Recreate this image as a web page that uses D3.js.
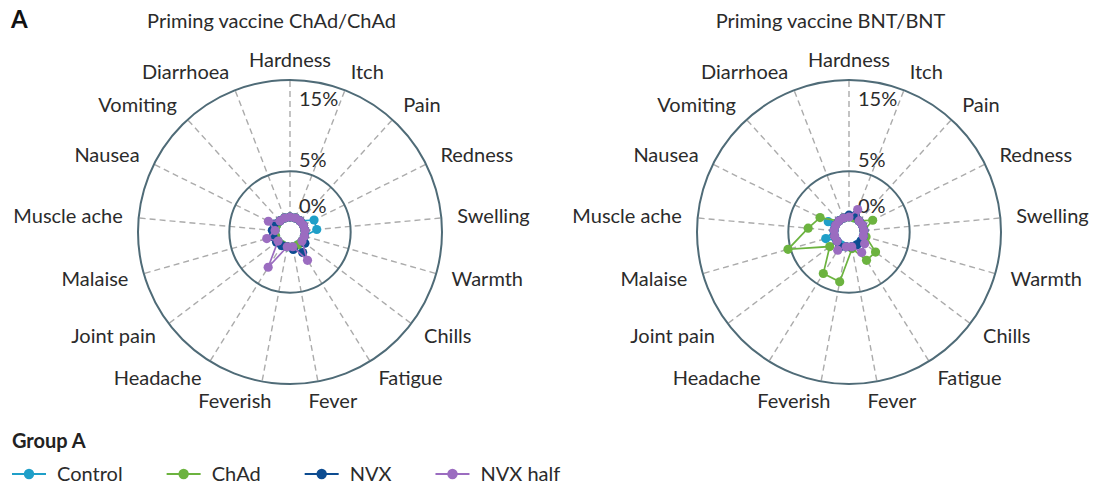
<!DOCTYPE html>
<html>
<head>
<meta charset="utf-8">
<script src="https://cdn.jsdelivr.net/npm/d3@7"></script>
<style>
  html, body { margin: 0; padding: 0; background: #ffffff; }
  svg { display: block; }
  text { font-family: Lato, "Open Sans", sans-serif; fill: #2b2b2b; }
</style>
</head>
<body>
<svg id="chart" width="1096" height="489"></svg>
<script>
// ---------- data ----------
const categories = ["Hardness", "Itch", "Pain", "Redness", "Swelling", "Warmth", "Chills", "Fatigue",
  "Fever", "Feverish", "Headache", "Joint pain", "Malaise", "Muscle ache", "Nausea", "Vomiting", "Diarrhoea"];
const seriesNames = ["Control", "ChAd", "NVX", "NVX half"];
const seriesColors = ["#1f9fc8", "#6cb33f", "#0d4c91", "#9b6cc0"];
const tickValues = [0, 5, 15];
const tickLabels = ["0%", "5%", "15%"];
const panelTitles = ["Priming vaccine ChAd/ChAd", "Priming vaccine BNT/BNT"];
const panelLetter = "A";
const legendTitle = "Group A";

// Panel 1: priming ChAd/ChAd (% of participants)
const chadControl = [0, 0, 0, 1.3, 1.3, 0, 0, 0, 0, 0, 0, 0, 0, 0, 0, 0, 0];
const chadChAd    = [0, 0, 0, 0, 0, 0, 0, 0, 0, 0, 0, 0, 0, 0, 0, 0, 0];
const chadNVX     = [0, 0, 0, 0, 0, 0, 0.4, 1.0, 0.3, 0, 0.1, 0.2, 0.3, 0.3, 0.3, 0, 0];
const chadNVXhalf = [0, 0, 0, 0, 0, 0, 0, 2.0, 0, 0, 2.9, 0, 1.0, 0, 1.0, 0, 0];

// Panel 2: priming BNT/BNT
const bntControl = [0, 0, 0, 0, 0, 0, 0, 0, 0, 0, 0, 0, 1.0, 0, 0.9, 0, 0];
const bntChAd    = [0, 0, 0, 1.25, 0, 0.3, 2.0, 2.0, 0.2, 3.9, 3.7, 1.0, 5.3, 2.85, 1.9, 0, 0];
const bntNVX     = [0.2, 0.3, 0, 0, 0, 0, 0, 0, 0, 0, 0.3, 0, 0, 0, 0, 0, 0];
const bntNVXhalf = [0, 1.0, 0, 0, 0, 0, 0.5, 1.0, 0, 0, 0.7, 0, 0, 0, 0, 0, 0];

const panels = [
  { title: panelTitles[0], series: [chadControl, chadChAd, chadNVX, chadNVXhalf], cx: 290 },
  { title: panelTitles[1], series: [bntControl, bntChAd, bntNVX, bntNVXhalf], cx: 849 }
];

// ---------- layout ----------
const cy = 232;
const rInner = 15, rOuter = 152;
const labelR = 168, labelRy = 172;
const circleColor = "#4f6b77";
const spokeColor = "#ababab";

const svg = d3.select("#chart");
const n = categories.length;
const angle = d3.scaleLinear().domain([0, n]).range([0, 2 * Math.PI]);
const r = d3.scaleLinear().domain([0, 15]).range([rInner, rOuter]);

svg.append("text").attr("x", 11).attr("y", 28)
  .style("font-size", "24px").style("font-weight", "bold").style("fill", "#111")
  .text(panelLetter);

panels.forEach(p => {
  const g = svg.append("g").attr("transform", `translate(${p.cx},${cy})`);

  // spokes
  g.selectAll("line.spoke").data(categories).join("line")
    .attr("class", "spoke")
    .attr("x1", (d, i) => Math.sin(angle(i)) * r(0))
    .attr("y1", (d, i) => -Math.cos(angle(i)) * r(0))
    .attr("x2", (d, i) => Math.sin(angle(i)) * r(15))
    .attr("y2", (d, i) => -Math.cos(angle(i)) * r(15))
    .attr("stroke", spokeColor).attr("stroke-width", 1.4)
    .attr("stroke-dasharray", "6,4");

  // circles (5% and 15%)
  g.selectAll("circle.grid").data(tickValues.filter(v => v > 0)).join("circle")
    .attr("class", "grid")
    .attr("r", d => r(d))
    .attr("fill", "none").attr("stroke", circleColor).attr("stroke-width", 2);

  // tick labels
  g.selectAll("text.tick").data(tickValues).join("text")
    .attr("class", "tick")
    .attr("x", 9)
    .attr("y", d => d === 15 ? -r(d) + 26 : -r(d) - 4)
    .style("font-size", "20px")
    .text((d, i) => tickLabels[i]);

  // category labels
  const lg = g.append("g");
  lg.selectAll("text.cat").data(categories).join("text")
    .attr("class", "cat")
    .attr("x", (d, i) => {
      const s = Math.sin(angle(i));
      return s * labelR * (Math.abs(s) < 0.25 ? 0.6 : 1);
    })
    .attr("y", (d, i) => -Math.cos(angle(i)) * labelRy)
    .attr("dy", "0.35em")
    .attr("text-anchor", (d, i) => {
      const s = Math.sin(angle(i));
      return s > 0.1 ? "start" : (s < -0.1 ? "end" : "middle");
    })
    .style("font-size", "20px")
    .text(d => d);

  const bb = lg.node().getBBox();
  svg.append("text")
    .attr("x", p.cx + bb.x + bb.width / 2)
    .attr("y", 28)
    .attr("text-anchor", "middle")
    .style("font-size", "20px")
    .text(p.title);

  // series
  const line = d3.lineRadial()
    .angle((d, i) => angle(i))
    .radius(d => r(d))
    .curve(d3.curveLinearClosed);

  p.series.forEach((vals, si) => {
    const sg = g.append("g");
    sg.append("path").attr("d", line(vals))
      .attr("fill", "none").attr("stroke", seriesColors[si]).attr("stroke-width", 1.7);
    sg.selectAll("circle").data(vals).join("circle")
      .attr("cx", (d, i) => Math.sin(angle(i)) * r(d))
      .attr("cy", (d, i) => -Math.cos(angle(i)) * r(d))
      .attr("r", 4.6)
      .attr("fill", seriesColors[si]);
  });
});

// legend
svg.append("text").attr("x", 12).attr("y", 448)
  .style("font-size", "20px").style("font-weight", "bold").style("fill", "#222")
  .text(legendTitle);

const lgd = svg.append("g").attr("transform", "translate(0,474)");
let cursor = 12;
seriesNames.forEach((name, i) => {
  const x0 = cursor;
  lgd.append("line").attr("x1", x0).attr("x2", x0 + 34).attr("y1", 0).attr("y2", 0)
    .attr("stroke", seriesColors[i]).attr("stroke-width", 1.8);
  lgd.append("circle").attr("cx", x0 + 17).attr("cy", 0).attr("r", 5.2).attr("fill", seriesColors[i]);
  const t = lgd.append("text").attr("x", x0 + 45).attr("y", 0).attr("dy", "0.35em")
    .style("font-size", "20px").text(name);
  cursor = x0 + 45 + t.node().getComputedTextLength() + 44;
});
</script>
</body>
</html>
